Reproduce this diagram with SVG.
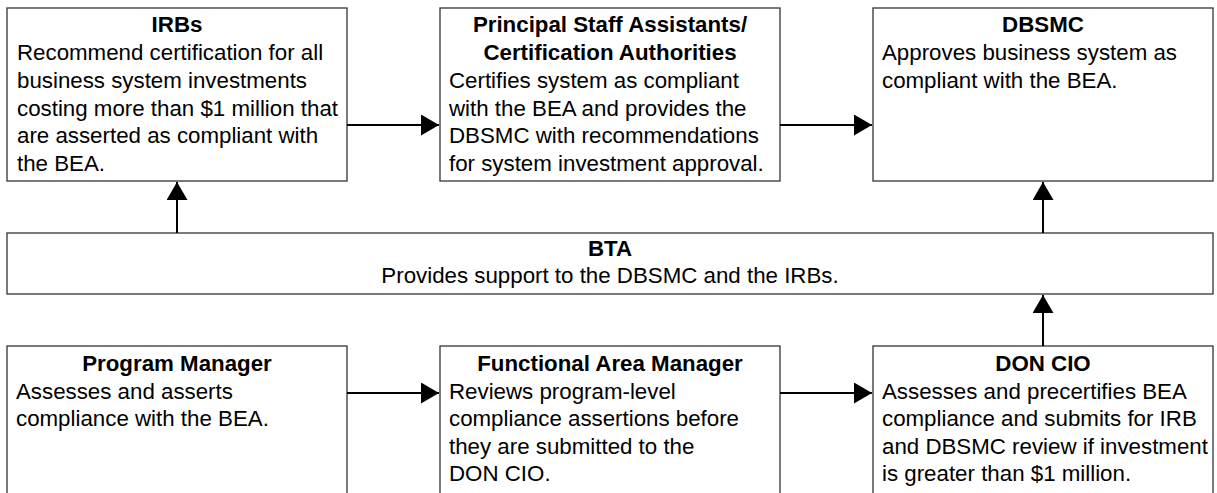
<svg xmlns="http://www.w3.org/2000/svg" width="1217" height="493" viewBox="0 0 1217 493">
<style>
.box{fill:#fff;stroke:#333;stroke-width:1.3}
.t{font-family:"Liberation Sans",Arial,sans-serif;font-size:22.3px;fill:#000}
.b{font-weight:bold;text-anchor:middle}
.c{text-anchor:middle}
.con{stroke:#000;stroke-width:2;fill:none}
</style>
<defs>
<marker id="ah" markerUnits="userSpaceOnUse" markerWidth="18" markerHeight="21" refX="18" refY="10.5" orient="auto">
<path d="M0,0 L18,10.5 L0,21 z" fill="#000"/>
</marker>
</defs>
<rect width="1217" height="493" fill="#fff"/>
<g id="irbs">
<rect class="box" x="7" y="8" width="340" height="173"/>
<text class="t b" x="177" y="32">IRBs</text>
<text class="t" x="17" y="60">Recommend certification for all</text>
<text class="t" x="17" y="88">business system investments</text>
<text class="t" x="17" y="115.5">costing more than $1 million that</text>
<text class="t" x="17" y="143">are asserted as compliant with</text>
<text class="t" x="17" y="171">the BEA.</text>
</g>
<g id="psa">
<rect class="box" x="440" y="8" width="340" height="173"/>
<text class="t b" x="610" y="32">Principal Staff Assistants/</text>
<text class="t b" x="610" y="60">Certification Authorities</text>
<text class="t" x="449" y="88">Certifies system as compliant</text>
<text class="t" x="449" y="115.5">with the BEA and provides the</text>
<text class="t" x="449" y="143">DBSMC with recommendations</text>
<text class="t" x="449" y="171">for system investment approval.</text>
</g>
<g id="dbsmc">
<rect class="box" x="873" y="8" width="340" height="173"/>
<text class="t b" x="1043" y="32">DBSMC</text>
<text class="t" x="882" y="60">Approves business system as</text>
<text class="t" x="882" y="88">compliant with the BEA.</text>
</g>
<g id="bta">
<rect class="box" x="7" y="233" width="1206" height="61"/>
<text class="t b" x="610" y="256">BTA</text>
<text class="t c" x="610" y="283">Provides support to the DBSMC and the IRBs.</text>
</g>
<g id="pm">
<rect class="box" x="7" y="346" width="340" height="160"/>
<text class="t b" x="177" y="371">Program Manager</text>
<text class="t" x="16" y="398.5">Assesses and asserts</text>
<text class="t" x="16" y="426">compliance with the BEA.</text>
</g>
<g id="fam">
<rect class="box" x="440" y="346" width="340" height="160"/>
<text class="t b" x="610" y="371">Functional Area Manager</text>
<text class="t" x="449" y="398.5">Reviews program-level</text>
<text class="t" x="449" y="426">compliance assertions before</text>
<text class="t" x="449" y="453.5">they are submitted to the</text>
<text class="t" x="449" y="481">DON CIO.</text>
</g>
<g id="doncio">
<rect class="box" x="873" y="346" width="340" height="160"/>
<text class="t b" x="1043" y="371">DON CIO</text>
<text class="t" x="882" y="398.5">Assesses and precertifies BEA</text>
<text class="t" x="882" y="426">compliance and submits for IRB</text>
<text class="t" x="882" y="453.5">and DBSMC review if investment</text>
<text class="t" x="882" y="481">is greater than $1 million.</text>
</g>
<g id="connectors">
<line class="con" x1="347" y1="125" x2="439" y2="125" marker-end="url(#ah)"/>
<line class="con" x1="780" y1="125" x2="872" y2="125" marker-end="url(#ah)"/>
<line class="con" x1="347" y1="393" x2="439" y2="393" marker-end="url(#ah)"/>
<line class="con" x1="780" y1="393" x2="872" y2="393" marker-end="url(#ah)"/>
<line class="con" x1="177" y1="233" x2="177" y2="182" marker-end="url(#ah)"/>
<line class="con" x1="1043" y1="233" x2="1043" y2="182" marker-end="url(#ah)"/>
<line class="con" x1="1043" y1="346" x2="1043" y2="295" marker-end="url(#ah)"/>
</g>
</svg>
